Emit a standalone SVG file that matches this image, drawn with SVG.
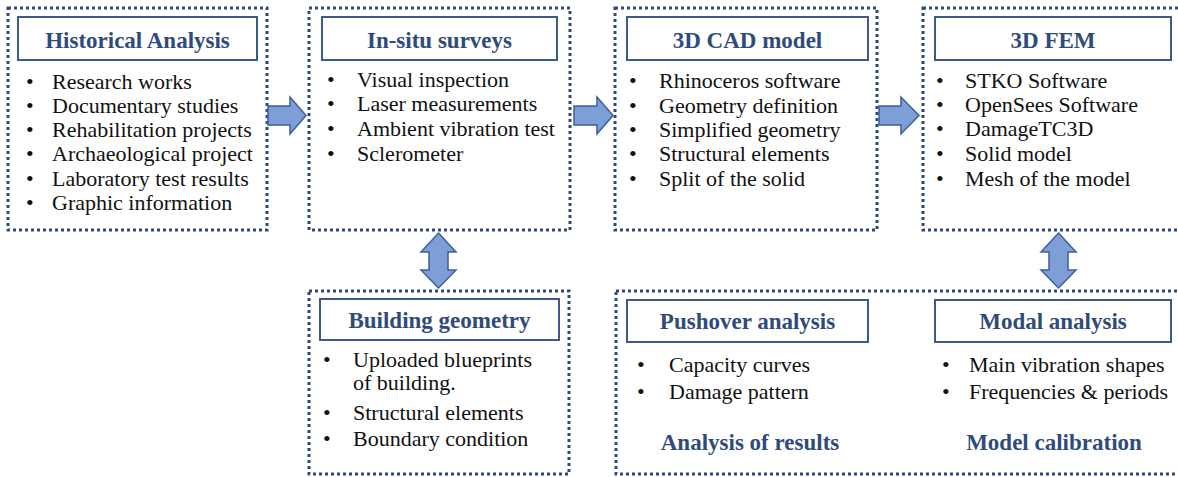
<svg xmlns="http://www.w3.org/2000/svg" width="1178" height="477" viewBox="0 0 1178 477" font-family="'Liberation Serif', 'Times New Roman', Tinos, 'DejaVu Serif', serif">
<style>
.outer{fill:none;stroke:#2f4a7a;stroke-width:3;stroke-dasharray:3 3}
.tbox{fill:#fff;stroke:#3b5a8e;stroke-width:2}
.title{font-family:'Liberation Serif','Times New Roman',Tinos,'DejaVu Serif',serif;font-weight:bold;font-size:23px;fill:#2f4b7c;text-anchor:middle}
.item{font-family:'Liberation Serif','Times New Roman',Tinos,'DejaVu Serif',serif;font-size:22px;fill:#111}
.arrow{fill:#7d9fd6;stroke:#3d5f9c;stroke-width:1.5;stroke-linejoin:miter}
</style>
<rect width="1178" height="477" fill="#fff"/>
<g id="historical">
<rect class="outer" x="8" y="8" width="259" height="222"/>
<rect class="tbox" x="18" y="17" width="239" height="43"/>
<text class="title" x="137.5" y="48">Historical Analysis</text>
<g class="item">
<text x="26" y="89">•</text><text x="52" y="89">Research works</text>
<text x="26" y="113">•</text><text x="52" y="113">Documentary studies</text>
<text x="26" y="137">•</text><text x="52" y="137">Rehabilitation projects</text>
<text x="26" y="161">•</text><text x="52" y="161">Archaeological project</text>
<text x="26" y="186">•</text><text x="52" y="186">Laboratory test results</text>
<text x="26" y="210">•</text><text x="52" y="210">Graphic information</text>
</g>
</g>
<g id="insitu">
<rect class="outer" x="309" y="8" width="261" height="222"/>
<rect class="tbox" x="322" y="17" width="235" height="43"/>
<text class="title" x="439.5" y="48">In-situ surveys</text>
<g class="item">
<text x="327" y="87">•</text><text x="357" y="87">Visual inspection</text>
<text x="327" y="111">•</text><text x="357" y="111">Laser measurements</text>
<text x="327" y="136">•</text><text x="357" y="136">Ambient vibration test</text>
<text x="327" y="161">•</text><text x="357" y="161">Sclerometer</text>
</g>
</g>
<g id="cad">
<rect class="outer" x="615" y="8" width="262" height="222"/>
<rect class="tbox" x="627" y="17" width="241" height="43"/>
<text class="title" x="747.5" y="48">3D CAD model</text>
<g class="item">
<text x="629" y="88">•</text><text x="659" y="88">Rhinoceros software</text>
<text x="629" y="113">•</text><text x="659" y="113">Geometry definition</text>
<text x="629" y="137">•</text><text x="659" y="137">Simplified geometry</text>
<text x="629" y="161">•</text><text x="659" y="161">Structural elements</text>
<text x="629" y="186">•</text><text x="659" y="186">Split of the solid</text>
</g>
</g>
<g id="fem">
<rect class="outer" x="923" y="8" width="265" height="222"/>
<rect class="tbox" x="935" y="17" width="236" height="43"/>
<text class="title" x="1053" y="48">3D FEM</text>
<g class="item">
<text x="936" y="88">•</text><text x="965" y="88">STKO Software</text>
<text x="936" y="112">•</text><text x="965" y="112">OpenSees Software</text>
<text x="936" y="136">•</text><text x="965" y="136">DamageTC3D</text>
<text x="936" y="161">•</text><text x="965" y="161">Solid model</text>
<text x="936" y="186">•</text><text x="965" y="186">Mesh of the model</text>
</g>
</g>
<g id="building">
<rect class="outer" x="309" y="291" width="260" height="183"/>
<rect class="tbox" x="320" y="299" width="239" height="41"/>
<text class="title" x="439.5" y="328">Building geometry</text>
<g class="item">
<text x="323" y="367">•</text><text x="353" y="367">Uploaded blueprints</text>
<text x="353" y="390">of building.</text>
<text x="323" y="420">•</text><text x="353" y="420">Structural elements</text>
<text x="323" y="446">•</text><text x="353" y="446">Boundary condition</text>
</g>
</g>
<g id="results">
<rect class="outer" x="616" y="291" width="572" height="183"/>
<g id="pushover">
<rect class="tbox" x="627" y="300" width="241" height="42"/>
<text class="title" x="747.5" y="329">Pushover analysis</text>
<g class="item">
<text x="637" y="372">•</text><text x="669" y="372">Capacity curves</text>
<text x="637" y="399">•</text><text x="669" y="399">Damage pattern</text>
</g>
<text class="title" x="750" y="450">Analysis of results</text>
</g>
<g id="modal">
<rect class="tbox" x="935" y="300" width="236" height="42"/>
<text class="title" x="1053" y="329">Modal analysis</text>
<g class="item">
<text x="942" y="372">•</text><text x="969" y="372">Main vibration shapes</text>
<text x="942" y="399">•</text><text x="969" y="399">Frequencies &amp; periods</text>
</g>
<text class="title" x="1054" y="450">Model calibration</text>
</g>
</g>
<g id="connectors">
<polygon class="arrow" points="268,106 290,106 290,97 306,115.5 290,134 290,125 268,125"/>
<polygon class="arrow" points="574,106 597,106 597,97 613,115.5 597,134 597,125 574,125"/>
<polygon class="arrow" points="879,106 901,106 901,97 919,115.5 901,134 901,125 879,125"/>
<polygon class="arrow" points="438.5,233 456,252 448,252 448,270 456,270 438.5,288 421,270 429,270 429,252 421,252"/>
<polygon class="arrow" points="1058.5,233 1076,252 1068,252 1068,270 1076,270 1058.5,288 1041,270 1049,270 1049,252 1041,252"/>
</g>
</svg>
